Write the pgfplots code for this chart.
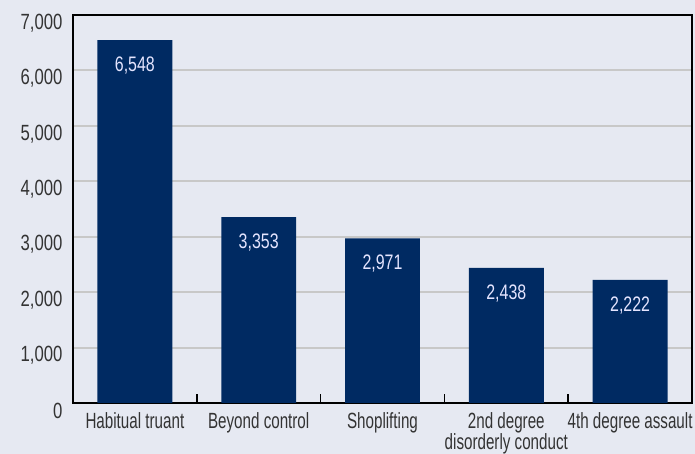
\documentclass[border=0pt]{standalone}
\usepackage{pgfplots}
\pgfplotsset{compat=1.18}
\usepackage{fontspec}
\setmainfont{Liberation Sans}[FakeStretch=0.69]
\newfontfamily\numfont{Liberation Sans}[FakeStretch=0.76]
\definecolor{bg}{RGB}{230,233,242}
\definecolor{bar}{RGB}{0,42,98}
\definecolor{gridc}{RGB}{200,200,200}
\begin{document}
\begin{tikzpicture}
\useasboundingbox (0,0) rectangle (695pt,454pt);
\fill[bg] (0,0) rectangle (695pt,454pt);
\begin{axis}[
  scale only axis,
  width=619pt, height=388pt,
  at={(73pt,51pt)}, anchor=south west,
  xmin=-0.5, xmax=4.5,
  ymin=0, ymax=7000,
  ybar, bar width=0.605,
  xtick={0,1,2,3,4},
  xticklabels={Habitual truant,Beyond control,Shoplifting,{2nd degree\\disorderly conduct},4th degree assault},
  minor xtick={0.5,1.5,2.5,3.5},
  ytick={0,1000,...,7000},
  major tick length=0pt,
  minor tick length=9pt,
  tick align=inside,
  tick pos=left,
  minor tick style={black, line width=1.5pt},
  ymajorgrids,
  major grid style={gridc, line width=2pt},
  axis line style={black, line width=1.8pt},
  /pgf/number format/assume math mode=true,
  /pgf/number format/.cd, 1000 sep={,}, fixed, precision=0, /pgfplots/.cd,
  xticklabel style={font=\fontsize{22}{19}\selectfont, text=black!80, align=center, yshift=-6pt},
  yticklabel style={font=\numfont\fontsize{22}{22}\selectfont, text=black!80, yshift=-8pt, xshift=-7pt},
  nodes near coords,
  every node near coord/.append style={anchor=north, yshift=-13pt, text=white!90!blue, font=\numfont\fontsize{21}{21}\selectfont},
]
\addplot[fill=bar, draw=none] coordinates {(0,6548) (1,3353) (2,2971) (3,2438) (4,2222)};
\end{axis}
\end{tikzpicture}
\end{document}
